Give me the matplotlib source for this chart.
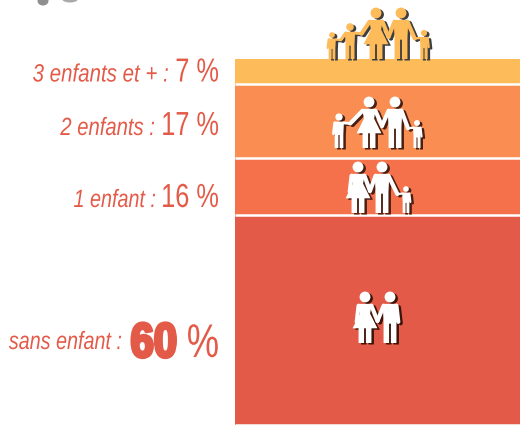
import matplotlib
matplotlib.use('Agg')
import matplotlib.pyplot as plt
from matplotlib.patches import Circle, Polygon, Ellipse
from matplotlib.patheffects import AbstractPathEffect
from matplotlib.transforms import Affine2D

# top to bottom
labels = ['3 enfants et + :', '2 enfants :', '1 enfant :', 'sans enfant :']
values = [7, 17, 16, 60]
# bar heights as drawn in the picture (not proportional to the values)
heights = [25.5, 74.5, 56.5, 210]
colors = ['#FDBB5A', '#F98D52', '#F4714C', '#E35B48']
text_color = '#E35B48'

plt.rcParams['font.family'] = ['Liberation Sans', 'DejaVu Sans']


class Squeeze(AbstractPathEffect):
    # no condensed font installed, so narrow the glyphs around the right edge of the text
    def __init__(self, xr, sx, stroke=0):
        super().__init__()
        self.xr = xr
        self.sx = sx
        self.stroke = stroke

    def draw_path(self, renderer, gc, tpath, affine, rgbFace=None):
        aff = affine + Affine2D().translate(-self.xr, 0).scale(self.sx, 1).translate(self.xr, 0)
        if self.stroke:
            gc0 = renderer.new_gc()
            gc0.copy_properties(gc)
            gc0.set_linewidth(self.stroke)
            gc0.set_foreground(rgbFace)
            renderer.draw_path(gc0, tpath, aff, rgbFace)
            gc0.restore()
        else:
            renderer.draw_path(gc, tpath, aff, rgbFace)


fig = plt.figure(figsize=(5.2, 4.25), dpi=100)
ax = fig.add_axes([0, 0, 1, 1])
ax.set_xlim(0, 520)
ax.set_ylim(425, 0)
ax.axis('off')

bottom = 58.5
for h, c in zip(heights, colors):
    ax.bar(234.5, h, width=290, bottom=bottom, align='edge', color=c, edgecolor='none')
    bottom += h
    ax.plot([234.5, 520], [bottom - 0.5, bottom - 0.5], color='white', lw=1.8, solid_capstyle='butt')

# baseline, label right edge, label squeeze
text_pos = [(81.5, 169, 0.82), (135, 155, 0.81), (207, 156, 0.79), (349, 122, 0.79)]
for lab, val, (y, xr, sx) in zip(labels, values, text_pos):
    t = ax.text(xr, y, lab, ha='right', va='baseline', style='italic', fontsize=18, color=text_color)
    t.set_path_effects([Squeeze(xr, sx)])
    if val == 60:
        t = ax.text(219, 357, '%', ha='right', va='baseline', fontsize=34, color=text_color)
        t.set_path_effects([Squeeze(219, 0.77)])
        t = ax.text(177, 357, str(val), ha='right', va='baseline', fontsize=35, fontweight='bold',
                    color=text_color)
        t.set_path_effects([Squeeze(177, 0.86, stroke=2.4)])
    else:
        t = ax.text(219, y, '%d %%' % val, ha='right', va='baseline', fontsize=24, color=text_color)
        t.set_path_effects([Squeeze(219, 0.76)])


def draw_person(kind, x, head_y, feet_y, col, z, dx=0, dy=0):
    s = feet_y - head_y
    x += dx
    head_y += dy
    r = 0.118 * s
    ax.add_patch(Circle((x, head_y), r, color=col, lw=0, zorder=z))

    def P(u, v):
        return (x + u * s, head_y + v * s)
    if kind == 'f':
        pts = [(-.15, .15), (.15, .15), (.11, .36), (.27, .68), (.14, .68), (.14, 1), (.02, 1), (.02, .68),
               (-.02, .68), (-.02, 1), (-.14, 1), (-.14, .68), (-.27, .68), (-.11, .36)]
    else:
        pts = [(-.16, .15), (.16, .15), (.14, .55), (.14, 1), (.02, 1), (.02, .58),
               (-.02, .58), (-.02, 1), (-.14, 1), (-.14, .55)]
    ax.add_patch(Polygon([P(u, v) for u, v in pts], closed=True, color=col, lw=0, zorder=z))


def draw_arm(pts, w, col, z, dx=0, dy=0):
    ax.plot([p[0] + dx for p in pts], [p[1] + dy for p in pts], color=col, lw=w * 0.72,
            solid_capstyle='round', solid_joinstyle='round', zorder=z)


def draw_family(people, col, shadow):
    for c, dx, dy, z in [(shadow, 2.5, 1.5, 3), (col, 0, 0, 4)]:
        for kind, x, hy, fy in people:
            draw_person(kind, x, hy, fy, c, z, dx, dy)
        for i, (kind, x, hy, fy) in enumerate(people):
            s = fy - hy
            w = 0.09 * s
            sy = hy + 0.19 * s
            side = 0.14 * s
            if i == 0:
                draw_arm([(x - side, sy), (x - side - 0.04 * s, sy + 0.35 * s)], w, c, z, dx, dy)
            if i == len(people) - 1:
                draw_arm([(x + side, sy), (x + side + 0.04 * s, sy + 0.35 * s)], w, c, z, dx, dy)
            if i < len(people) - 1:
                k2, x2, hy2, fy2 = people[i + 1]
                s2 = fy2 - hy2
                w2 = 0.09 * s2
                sy2 = hy2 + 0.19 * s2
                if abs(s - s2) < 1:
                    hand = ((x + x2) / 2, sy + 0.33 * s)
                elif s2 < s:
                    hand = (x2 - 0.36 * s2, sy2 + 0.02 * s2)
                else:
                    hand = (x + 0.36 * s, sy + 0.02 * s)
                draw_arm([(x + side, sy), hand], w, c, z, dx, dy)
                draw_arm([hand, (x2 - 0.14 * s2, sy2)], w2, c, z, dx, dy)


draw_family([('c', 332, 35, 59), ('c', 350, 27, 59), ('f', 376, 13, 59), ('m', 401, 13, 59),
             ('c', 424, 33, 59)], '#FDBB5A', '#3E3E3E')
draw_family([('c', 339, 117, 148), ('f', 369, 102, 148), ('m', 395, 102, 148), ('c', 417, 123, 148)],
            'white', '#4A1E10')
draw_family([('f', 358, 167, 213), ('m', 382, 167, 213), ('c', 406, 189, 213)], 'white', '#4A1E10')
draw_family([('f', 365, 297, 343), ('m', 390, 297, 343)], 'white', '#3F1408')

# cut-off shape at the top edge of the picture
ax.add_patch(Ellipse((43, 1), 11, 9, color='#444444', alpha=0.6, lw=0))
ax.add_patch(Ellipse((70, -1), 16, 7, color='#555555', alpha=0.5, lw=0))

fig.savefig('out.png', dpi=100)
